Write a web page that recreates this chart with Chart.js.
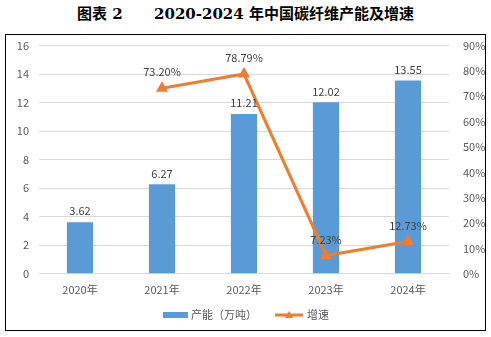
<!DOCTYPE html>
<html>
<head>
<meta charset="utf-8">
<script src="https://cdn.jsdelivr.net/npm/chart.js@4"></script>
<style>
  body { margin: 0; width: 491px; height: 337px; background: #fff; position: relative; overflow: hidden; }
  #title { position: absolute; left: 0; top: 2px; width: 491px; text-align: center;
           font: bold 15px "DejaVu Serif", "Noto Sans CJK SC", serif; color: #000; white-space: pre; }
  #box { position: absolute; left: 5px; top: 34px; width: 479px; height: 295px; border: 1px solid #000; }
  #chart { position: absolute; left: 0; top: -6px; }
</style>
</head>
<body>
<div id="title">图表 2      2020-2024 年中国碳纤维产能及增速</div>
<div id="box"><canvas id="chart" width="479" height="300"></canvas></div>
<script>
// data
const years = ['2020年', '2021年', '2022年', '2023年', '2024年'];
const capacity = [3.62, 6.27, 11.21, 12.02, 13.55];   // 万吨
const growth = [null, 73.20, 78.79, 7.23, 12.73];      // %

const BLUE = '#5B9BD5';
const ORANGE = '#ED7D31';
const FONT = '"Noto Sans CJK SC", sans-serif';

// value labels above bars and points
const labelPlugin = {
    id: 'valueLabels',
    afterDatasetsDraw(chart) {
        const ctx = chart.ctx;
        ctx.save();
        ctx.font = '11px ' + FONT;
        ctx.fillStyle = '#404040';
        ctx.textAlign = 'center';
        ctx.textBaseline = 'middle';
        chart.getDatasetMeta(1).data.forEach((bar, i) => {
            ctx.fillText(capacity[i].toFixed(2), bar.x, bar.y - 11);
        });
        chart.getDatasetMeta(0).data.forEach((pt, i) => {
            if (growth[i] === null) return;
            ctx.fillText(growth[i].toFixed(2) + '%', pt.x, pt.y - 16);
        });
        ctx.restore();
    }
};

// legend drawn by hand so the line entry can carry its triangle marker
const legendPlugin = {
    id: 'customLegend',
    afterDraw(chart) {
        const ctx = chart.ctx;
        const y = 286;
        ctx.save();
        ctx.font = '11px ' + FONT;
        ctx.textBaseline = 'middle';
        ctx.textAlign = 'left';
        // bar entry
        ctx.fillStyle = BLUE;
        ctx.fillRect(157, y - 3, 25, 6);
        ctx.fillStyle = '#595959';
        ctx.fillText('产能（万吨）', 185, y);
        // line entry
        ctx.strokeStyle = ORANGE;
        ctx.lineWidth = 3;
        ctx.beginPath();
        ctx.moveTo(269, y);
        ctx.lineTo(297, y);
        ctx.stroke();
        ctx.fillStyle = ORANGE;
        ctx.beginPath();
        ctx.moveTo(283, y - 4);
        ctx.lineTo(287, y + 3);
        ctx.lineTo(279, y + 3);
        ctx.closePath();
        ctx.fill();
        ctx.fillStyle = '#595959';
        ctx.fillText('增速', 301, y);
        ctx.restore();
    }
};

new Chart(document.getElementById('chart'), {
    type: 'bar',
    data: {
        labels: years,
        datasets: [{
            type: 'line',
            label: '增速',
            data: growth,
            yAxisID: 'y1',
            borderColor: ORANGE,
            backgroundColor: ORANGE,
            borderWidth: 3,
            pointStyle: 'triangle',
            pointRadius: 4,
            pointBackgroundColor: ORANGE,
            pointBorderColor: ORANGE,
            tension: 0,
            order: 0
        }, {
            label: '产能（万吨）',
            data: capacity,
            yAxisID: 'y',
            backgroundColor: BLUE,
            categoryPercentage: 1,
            barPercentage: 0.32,
            order: 1
        }]
    },
    options: {
        responsive: false,
        animation: false,
        layout: { padding: { top: 0, bottom: 32 } },
        plugins: { legend: { display: false }, tooltip: { enabled: false } },
        scales: {
            x: {
                grid: { display: false },
                border: { color: '#D9D9D9' },
                ticks: { color: '#595959', font: { family: FONT, size: 11 }, padding: 1 }
            },
            y: {
                position: 'left',
                min: 0, max: 16,
                afterFit(scale) { scale.width = 33; },
                grid: { color: '#D9D9D9', drawTicks: false },
                border: { display: false },
                ticks: { stepSize: 2, color: '#595959', font: { family: FONT, size: 11 }, padding: 10 }
            },
            y1: {
                position: 'right',
                min: 0, max: 90,
                afterFit(scale) { scale.width = 36; },
                grid: { display: false },
                border: { display: false },
                ticks: { stepSize: 10, color: '#595959', font: { family: FONT, size: 11 }, padding: 6,
                         callback: v => v + '%' }
            }
        }
    },
    plugins: [labelPlugin, legendPlugin]
});
</script>
</body>
</html>
